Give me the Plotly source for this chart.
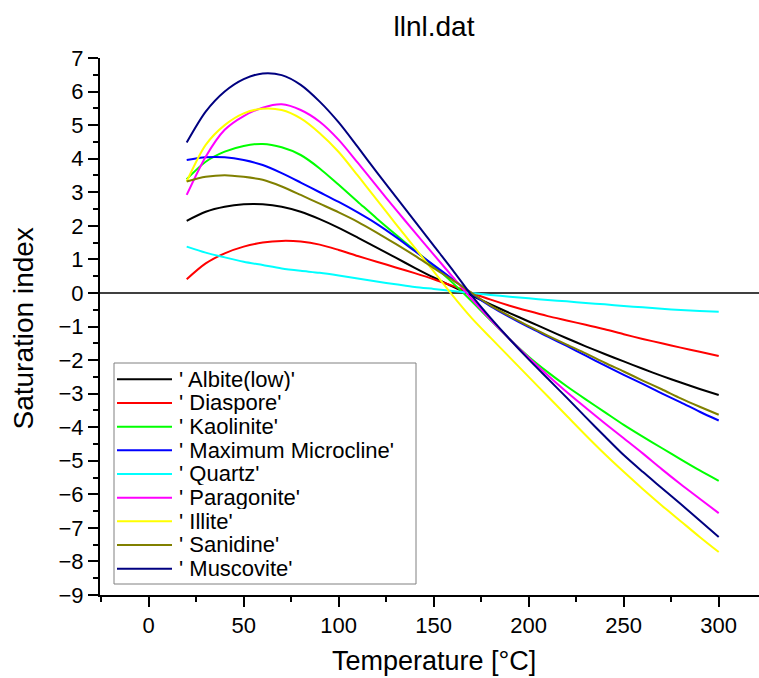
import plotly.graph_objects as go

# ---------------- data ----------------
temperature = [20, 30, 40, 50, 60, 70, 80, 90, 100, 110, 120, 130, 140, 150, 160,
               170, 180, 190, 200, 210, 220, 230, 240, 250, 260, 270, 280, 290, 300]

albite_low = [2.15, 2.42, 2.57, 2.64, 2.64, 2.57, 2.42, 2.20, 1.94, 1.65, 1.35, 1.05, 0.75, 0.46, 0.19,
              -0.08, -0.34, -0.60, -0.85, -1.10, -1.35, -1.59, -1.82, -2.04, -2.26, -2.47, -2.67, -2.86, -3.04]
diaspore = [0.41, 0.88, 1.18, 1.38, 1.50, 1.55, 1.53, 1.44, 1.28, 1.10, 0.93, 0.76, 0.59, 0.41, 0.21,
            0.00, -0.20, -0.38, -0.54, -0.69, -0.82, -0.95, -1.08, -1.23, -1.37, -1.50, -1.63, -1.75, -1.88]
kaolinite = [3.39, 3.91, 4.21, 4.38, 4.44, 4.34, 4.11, 3.71, 3.22, 2.72, 2.22, 1.74, 1.27, 0.80, 0.30,
             -0.25, -0.82, -1.38, -1.90, -2.36, -2.78, -3.17, -3.55, -3.93, -4.28, -4.62, -4.96, -5.29, -5.60]
max_microcline = [3.96, 4.04, 4.04, 3.96, 3.81, 3.57, 3.29, 3.00, 2.71, 2.40, 2.06, 1.67, 1.25, 0.83, 0.41,
                  -0.02, -0.40, -0.72, -1.02, -1.30, -1.58, -1.87, -2.16, -2.44, -2.71, -2.99, -3.26, -3.54, -3.80]
quartz = [1.38, 1.20, 1.06, 0.93, 0.83, 0.73, 0.66, 0.60, 0.52, 0.43, 0.34, 0.26, 0.18, 0.12, 0.06,
          0.00, -0.06, -0.11, -0.16, -0.21, -0.25, -0.30, -0.34, -0.39, -0.43, -0.47, -0.51, -0.54, -0.56]
paragonite = [2.92, 4.06, 4.86, 5.27, 5.52, 5.62, 5.45, 5.10, 4.56, 3.88, 3.18, 2.49, 1.81, 1.14, 0.48,
              -0.18, -0.80, -1.38, -1.93, -2.45, -2.95, -3.42, -3.88, -4.33, -4.78, -5.25, -5.70, -6.13, -6.56]
illite = [3.32, 4.41, 5.00, 5.35, 5.49, 5.45, 5.20, 4.76, 4.20, 3.50, 2.78, 2.06, 1.35, 0.64, -0.08,
          -0.75, -1.34, -1.92, -2.50, -3.08, -3.66, -4.24, -4.80, -5.33, -5.84, -6.33, -6.80, -7.27, -7.72]
sanidine = [3.32, 3.46, 3.51, 3.46, 3.37, 3.17, 2.92, 2.66, 2.40, 2.12, 1.80, 1.46, 1.11, 0.74, 0.38,
            0.00, -0.38, -0.69, -0.99, -1.27, -1.54, -1.80, -2.08, -2.34, -2.61, -2.87, -3.14, -3.39, -3.63]
muscovite = [4.48, 5.40, 6.00, 6.37, 6.54, 6.49, 6.20, 5.70, 5.08, 4.35, 3.60, 2.87, 2.14, 1.41, 0.68,
             -0.08, -0.75, -1.38, -1.98, -2.55, -3.12, -3.70, -4.27, -4.83, -5.33, -5.81, -6.29, -6.78, -7.27]

series_names = ["' Albite(low)'", "' Diaspore'", "' Kaolinite'", "' Maximum Microcline'", "' Quartz'",
                "' Paragonite'", "' Illite'", "' Sanidine'", "' Muscovite'"]
series_values = [albite_low, diaspore, kaolinite, max_microcline, quartz,
                 paragonite, illite, sanidine, muscovite]
series_colors = ["#000000", "#FF0000", "#00FF00", "#0000FF", "#00FFFF",
                 "#FF00FF", "#FFFF00", "#808000", "#000080"]

title_text = "llnl.dat"
x_title = "Temperature [°C]"
y_title = "Saturation index"

# ---------------- layout geometry ----------------
W, H = 759, 678
ML, MR, MT, MB = 100, 0, 58, 83
PW, PH = W - ML - MR, H - MT - MB
FONT = "Arial, Liberation Sans, Helvetica, sans-serif"


def px_x(px):
    return (px - ML) / PW


def px_y(py):
    return (H - MB - py) / PH


fig = go.Figure()
for name, vals, color in zip(series_names, series_values, series_colors):
    fig.add_trace(go.Scatter(
        x=temperature, y=vals, mode="lines", name=name,
        line=dict(color=color, width=2, shape="spline", smoothing=0.8),
        showlegend=False, hoverinfo="x+y+name"))

# custom legend (compact rows like the original)
shapes = []
annotations = []
lg_left, lg_right, lg_top, lg_bottom = 114, 416, 363, 584
shapes.append(dict(type="rect", xref="paper", yref="paper",
                   x0=px_x(lg_left), x1=px_x(lg_right), y0=px_y(lg_bottom), y1=px_y(lg_top),
                   line=dict(color="#808080", width=1), fillcolor="white", layer="above"))
row0, row_step = 379.3, 23.67
for i, (name, color) in enumerate(zip(series_names, series_colors)):
    yy = row0 + i * row_step
    shapes.append(dict(type="line", xref="paper", yref="paper",
                       x0=px_x(117), x1=px_x(172), y0=px_y(yy), y1=px_y(yy),
                       line=dict(color=color, width=2), layer="above"))
    annotations.append(dict(text=name, xref="paper", yref="paper",
                            x=px_x(177), y=px_y(yy), xanchor="left", yanchor="middle",
                            height=23, valign="middle",
                            showarrow=False, font=dict(family=FONT, size=22, color="black")))

# axis titles
annotations.append(dict(text=x_title, xref="paper", yref="paper",
                        x=px_x(434), y=px_y(661), xanchor="center", yanchor="middle",
                        showarrow=False, font=dict(family=FONT, size=27, color="black")))
annotations.append(dict(text=y_title, xref="paper", yref="paper", textangle=-90,
                        x=px_x(23), y=px_y(328.5), xanchor="center", yanchor="middle",
                        showarrow=False, font=dict(family=FONT, size=28, color="black")))

axis_common = dict(showline=True, linecolor="black", linewidth=2, mirror=False,
                   ticks="outside", ticklen=10, tickwidth=2, tickcolor="black",
                   showgrid=False, automargin=False,
                   tickfont=dict(family=FONT, size=22, color="black"))

fig.update_layout(
    width=W, height=H,
    margin=dict(l=ML, r=MR, t=MT, b=MB),
    paper_bgcolor="white", plot_bgcolor="white",
    showlegend=False,
    title=dict(text=title_text, x=px_x(434), xref="paper", xanchor="center",
               y=1 - 26 / H, yref="container", yanchor="middle",
               font=dict(family=FONT, size=28, color="black")),
    xaxis=dict(range=[-25.63, 321.2], tickmode="linear", tick0=0, dtick=50,
               minor=dict(ticks="outside", ticklen=5, tickwidth=2, tickcolor="black",
                          tick0=0, dtick=25, showgrid=False),
               zeroline=False, **axis_common),
    yaxis=dict(range=[-9, 7], tickmode="linear", tick0=0, dtick=1,
               minor=dict(ticks="outside", ticklen=5, tickwidth=2, tickcolor="black",
                          tick0=0, dtick=0.5, showgrid=False),
               zeroline=True, zerolinecolor="#404040", zerolinewidth=1.5,
               **axis_common),
    shapes=shapes,
    annotations=annotations,
)

fig.write_html("out.html")
